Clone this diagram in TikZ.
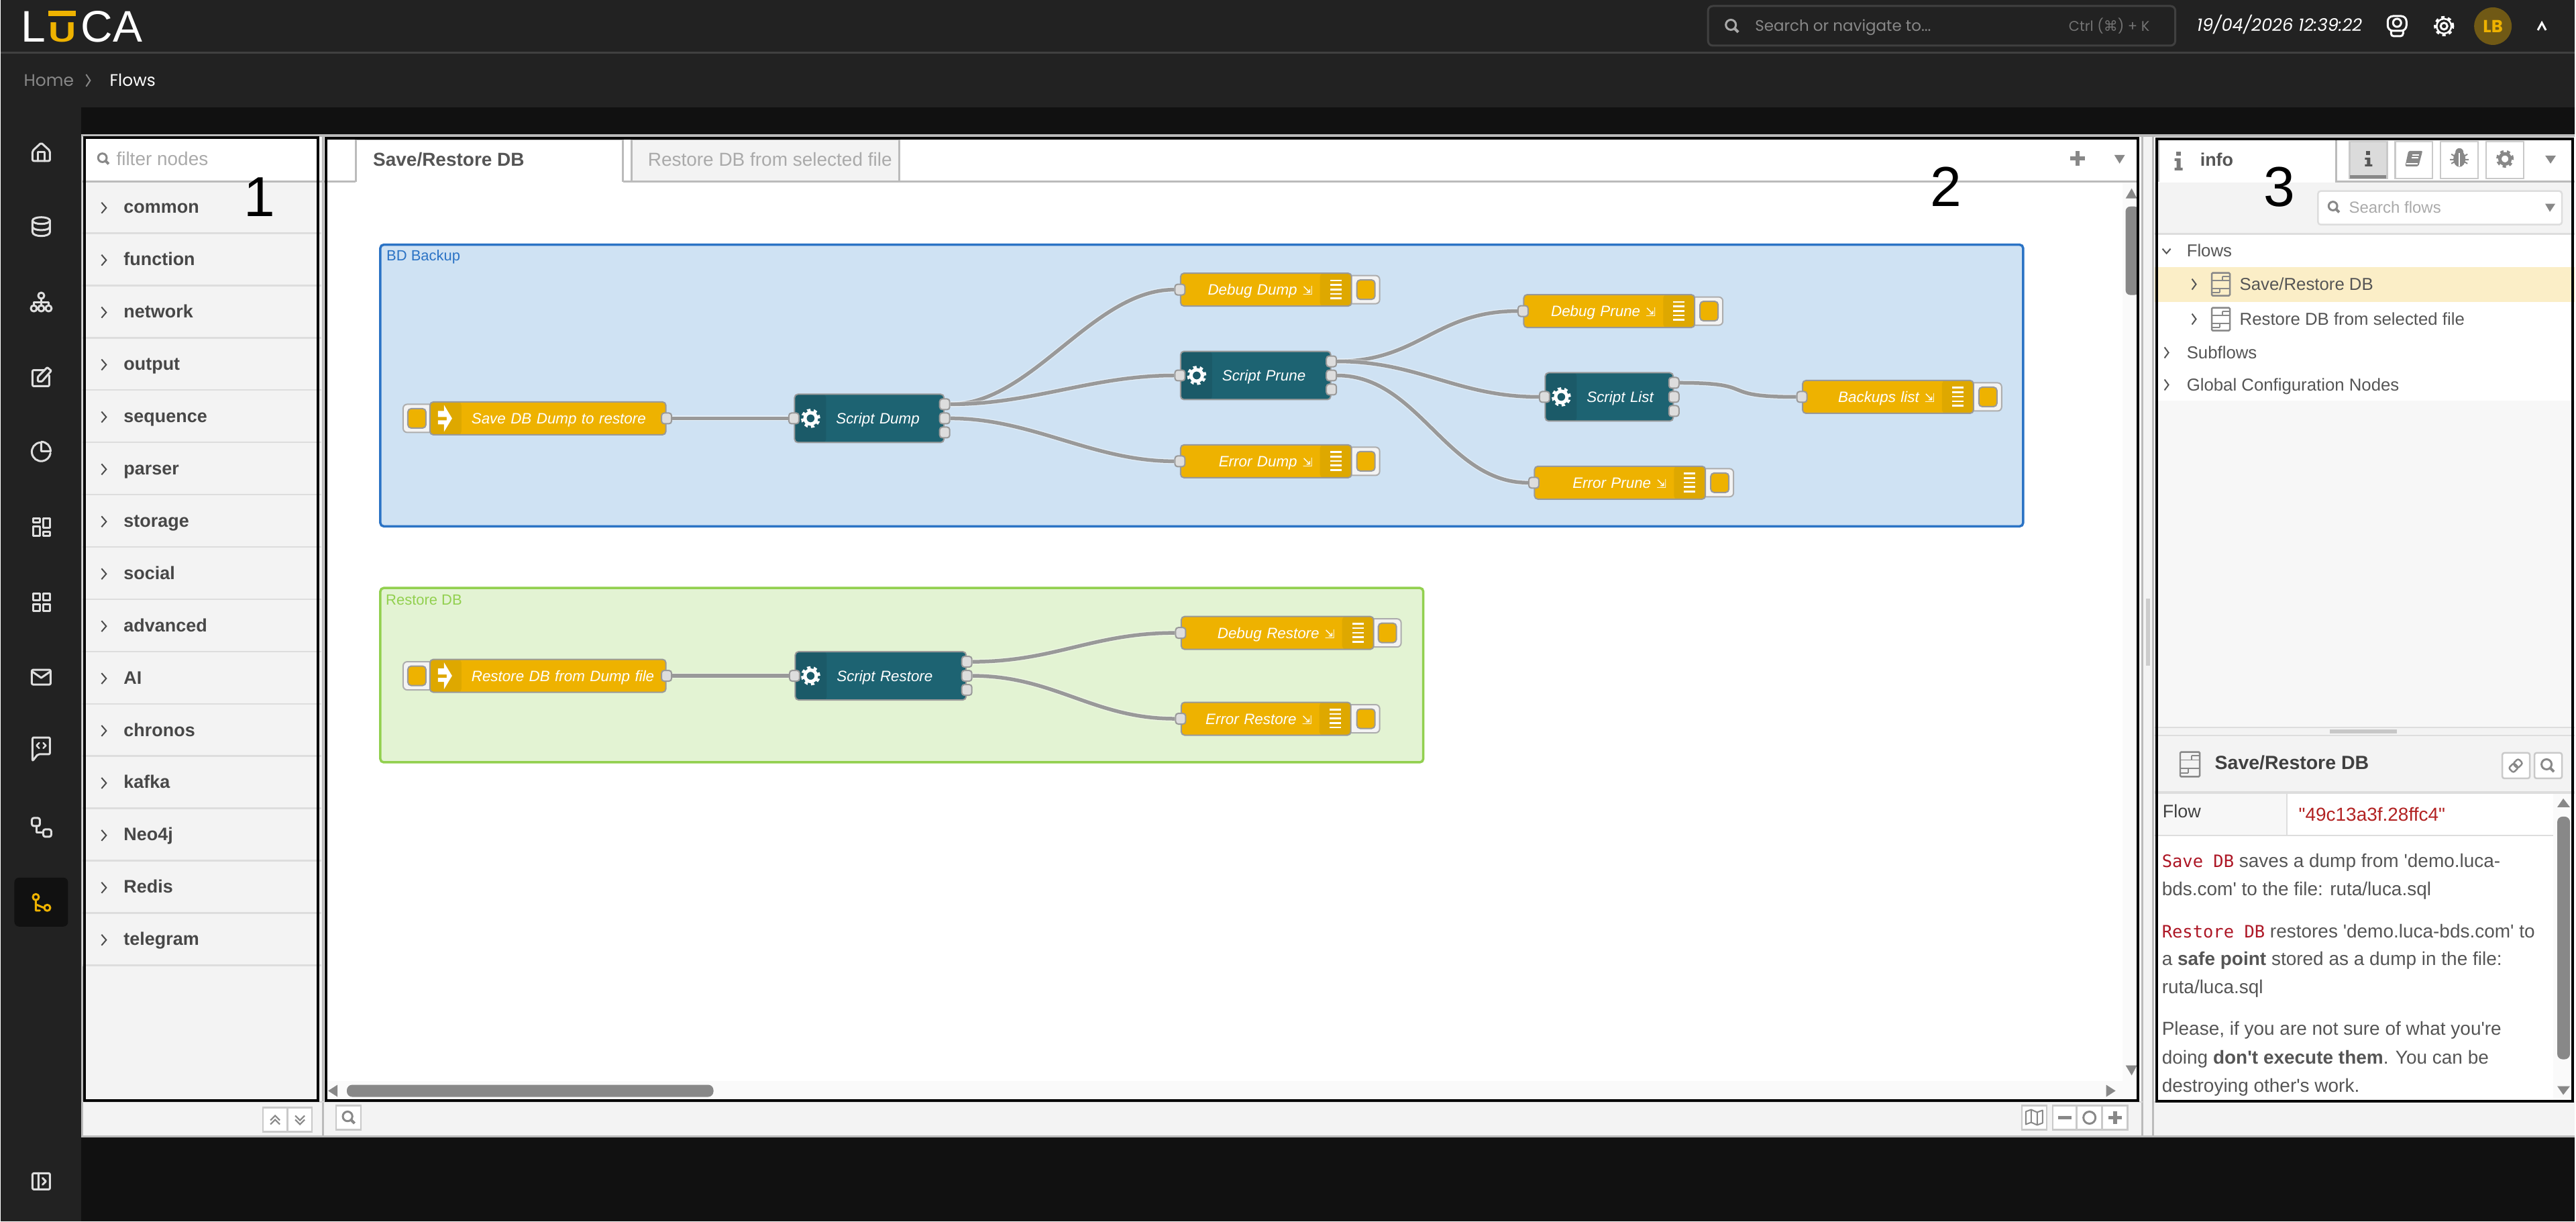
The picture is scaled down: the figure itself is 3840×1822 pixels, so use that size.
\documentclass[tikz,border=0pt]{standalone}
\usepackage{fontspec}
\setmainfont{Liberation Sans}
\setmonofont{DejaVu Sans Mono}
\newfontfamily\rawfont{Liberation Sans}
\newfontfamily\uifont{Poppins}
\newfontfamily\glyphfont{DejaVu Sans}
\newcommand{\fsz}[1]{\fontsize{#1}{#1}\selectfont}
\newcommand{\leftlabel}[1]{\rlap{#1}}
\newcommand{\outlabel}[1]{\hfill\llap{#1\hspace{8pt}{\glyphfont\fsz{18}⇲}}}
\definecolor{barcol}{HTML}{222222}
\definecolor{pagecol}{HTML}{111111}
\definecolor{panelcol}{HTML}{F3F3F3}
\definecolor{edgecol}{HTML}{BBBBBB}
\definecolor{rowcol}{HTML}{DDDDDD}
\definecolor{textcol}{HTML}{555555}
\definecolor{dimcol}{HTML}{AAAAAA}
\definecolor{iconcol}{HTML}{888888}
\definecolor{sidecol}{HTML}{DEDEDE}
\definecolor{wirecol}{HTML}{999999}
\definecolor{goldcol}{HTML}{EEB200}
\definecolor{goldband}{HTML}{DEA800}
\definecolor{tealcol}{HTML}{1D6372}
\definecolor{tealband}{HTML}{1B5A68}
\definecolor{bluecol}{HTML}{2B73C5}
\definecolor{bluefill}{HTML}{CFE2F3}
\definecolor{greencol}{HTML}{92D04F}
\definecolor{greenfill}{HTML}{E3F3D3}
\definecolor{redcol}{HTML}{AD1625}
\definecolor{valcol}{HTML}{B22222}
\begin{document}
\begin{tikzpicture}[
x=1pt,y=-1pt,
node distance=78pt,
plain/.style={inner sep=0pt,anchor=base west},
palrow/.style={rectangle,inner sep=0pt,minimum width=356pt,minimum height=78pt,fill=panelcol,
	text width=234pt,text height=22pt,text depth=6pt,text=black!72,font=\fsz{27}\bfseries,
	path picture={
		\draw[rowcol,line width=5pt] (path picture bounding box.south west) -- (path picture bounding box.south east);
		\draw[black!70,line width=2pt] ([xshift=28pt,yshift=8pt]path picture bounding box.west) -- ([xshift=35pt]path picture bounding box.west) -- ([xshift=28pt,yshift=-8pt]path picture bounding box.west);
	}},
flowbox/.style={rectangle,rounded corners=5pt,draw=wirecol,line width=2pt,inner sep=0pt,
	minimum height=49pt,text=white,font=\fsz{22.4}\itshape,text height=20pt,text depth=4pt},
injectbox/.style={flowbox,fill=goldcol,minimum width=#1pt,text width={#1pt-124pt},
	path picture={
		\fill[goldband] (path picture bounding box.north west) rectangle ([xshift=47pt]path picture bounding box.south west);
	}},
debugbox/.style={flowbox,fill=goldcol,minimum width=#1pt,text width={#1pt-116pt},
	path picture={
		\fill[goldband] ([xshift=-47pt]path picture bounding box.north east) rectangle (path picture bounding box.south east);
		\draw[white,line width=17pt,dash pattern=on 2.6pt off 4.1pt] ([xshift=-23.5pt,yshift=15pt]path picture bounding box.east) -- ([xshift=-23.5pt,yshift=-15pt]path picture bounding box.east);
	}},
scriptbox/.style={flowbox,fill=tealcol,minimum height=72pt,minimum width=#1pt,text width={#1pt-124pt},
	path picture={
		\fill[tealband] (path picture bounding box.north west) rectangle ([xshift=47pt]path picture bounding box.south west);
	}},
pushbtn/.style={rectangle,rounded corners=6pt,draw=wirecol!80,line width=2pt,fill=panelcol,minimum width=60pt,minimum height=42pt,inner sep=0pt},
btnleft/.style={pushbtn,path picture={\draw[fill=goldcol,draw=wirecol,line width=2pt,rounded corners=5pt] ([xshift=7pt,yshift=-14.5pt]path picture bounding box.west) rectangle ([xshift=34pt,yshift=14.5pt]path picture bounding box.west);}},
btnright/.style={pushbtn,path picture={\draw[fill=goldcol,draw=wirecol,line width=2pt,rounded corners=5pt] ([xshift=-7pt,yshift=-14.5pt]path picture bounding box.east) rectangle ([xshift=-34pt,yshift=14.5pt]path picture bounding box.east);}},
port/.style={rectangle,rounded corners=4pt,draw=wirecol,line width=2pt,fill=rowcol,minimum width=15pt,minimum height=16pt,inner sep=0pt},
wire/.style={draw=wirecol,line width=5.5pt,preaction={draw=white,draw opacity=.45,line width=8pt}},
groupbox/.style={rectangle,rounded corners=5pt,line width=3.5pt,inner sep=0pt},
toolbtn/.style={rectangle,draw=edgecol!80,line width=2.5pt,fill=white,minimum width=56pt,minimum height=55pt,inner sep=0pt},
smallbtn/.style={rectangle,draw=edgecol!80,line width=2.5pt,fill=white,inner sep=0pt},
treetext/.style={plain,text=textcol,font=\fsz{25.8}},
infotext/.style={plain,text=textcol,font=\fsz{28}\rawfont},
frame/.style={draw=black,line width=4pt},
side/.style={draw=sidecol,line width=3pt,line join=round,line cap=round},
gearpic/.pic={
	\path[pic actions,line width=5pt] (0,0) circle (8.5pt);
	\path[pic actions,line width=3.5pt,dash pattern=on 5pt off 5pt] (0,0) circle (12.7pt);
},
arrowpic/.pic={
	\fill[white] (13,-11) -- (22,-11) -- (22,-20) -- (34,0) -- (22,20) -- (22,9) -- (13,9) -- (13,3) -- (26,3) -- (26,-2) -- (13,-2) -- cycle;
},
magpic/.pic={
	\path[pic actions,line width=3pt] (-2,-2) circle (7.5pt);
	\path[pic actions,line width=4pt] (3.5,3.5) -- (9,9);
},
flowpic/.pic={
	\path[pic actions,line width=2.5pt,rounded corners=1.5pt] (-13.5,-17) rectangle (13.5,17);
	\path[pic actions,line width=2pt] (-13.5,-6) -- (13.5,-6) (-13.5,6) -- (13.5,6);
	\path[pic actions,line width=2pt] (2,-12) -- (13.5,-12) (-13.5,12) -- (-2,12) (2,-12) -- (2,-6) (-2,6) -- (-2,12);
}
]

% page and bars
\fill[pagecol] (0,0) rectangle (3840,1822);
\fill[barcol] (0,0) rectangle (3840,160);
\fill[barcol] (0,160) rectangle (120,1822);
\draw[black!75!white,line width=3pt] (0,79) -- (3840,79);

\node[plain,text=white,font=\fsz{66}] (logoa) at (30,63) {L};
\node[plain,text=goldcol,font=\fsz{42}\bfseries] (logob) at (71,63) {\scalebox{1.36}[1]{U}};
\fill[goldcol] (71,16) rectangle (112,24);
\node[plain,text=white,font=\fsz{66}] (logoc) at (119,63) {CA};
\node[plain,text=iconcol,font=\fsz{25}\uifont] (crumba) at (34,129) {Home};
\draw[iconcol,line width=2pt] (127,111) -- (133,120) -- (127,129);
\node[plain,text=white,font=\fsz{25}\uifont] (crumbb) at (162,129) {Flows};

\draw[black!75!white,line width=3pt,rounded corners=7pt,fill=barcol] (2547,9) rectangle (3244,68);
\pic[draw=dimcol] at (2583,39) {magpic};
\node[plain,text=iconcol,font=\fsz{23}\uifont] (searchtop) at (2617,47) {Search or navigate to...};
\node[plain,text=black!55!white,font=\fsz{21}\uifont] (searchkey) at (3085,47) {Ctrl ({\glyphfont ⌘}) + K};
\node[plain,text=white,font=\fsz{25.8}\uifont\itshape] (clock) at (3276,47) {19/04/2026 12:39:22};
\draw[white,line width=3pt,rounded corners=8pt] (3561,24) rectangle (3589,46);
\draw[white,line width=3pt,rounded corners=4pt] (3566,46) -- (3566,54) -- (3584,54) -- (3584,46);
\draw[white,line width=3pt] (3575,34) circle (6pt);
\pic[draw=white,scale=1.05] at (3645,39) {gearpic};
\fill[barcol] (3645,39) circle (10pt);
\draw[white,line width=3pt] (3645,39) circle (5pt);
\draw[white,line width=2.5pt] (3645,39) circle (11pt);
\node[circle,fill=goldcol!38!barcol,minimum size=56pt,inner sep=0pt,text=goldcol,font=\fsz{26}\uifont\bfseries] (avatar) at (3718,39) {LB};
\draw[white,line width=3pt] (3785,45) -- (3791,34) -- (3797,45);

% sidebar icons
\draw[side,rounded corners=2pt] (47,240) -- (47,225) -- (60,213) -- (73,225) -- (73,240) -- cycle;
\draw[side] (55,240) -- (55,227) -- (65,227) -- (65,240);
\draw[side] (60,329) ellipse (13pt and 5pt);
\draw[side] (47,329) -- (47,346) .. controls (47,354) and (73,354) .. (73,346) -- (73,329);
\draw[side] (47,338) .. controls (47,345) and (73,345) .. (73,338);
\draw[side] (60,441) circle (4.5pt);
\draw[side] (49,460) circle (4.5pt);
\draw[side] (60,460) circle (4.5pt);
\draw[side] (71,460) circle (4.5pt);
\draw[side] (60,446) -- (60,455) (49,455) -- (49,451) -- (71,451) -- (71,455);
\draw[side,rounded corners=2pt] (64,552) -- (47,552) -- (47,576) -- (72,576) -- (72,560);
\draw[side,rounded corners=1pt] (55,569) -- (55,562) -- (69,548) -- (75,553) -- (61,569) -- cycle;
\draw[side] (58,660) arc[start angle=98,end angle=352,radius=14pt];
\draw[side] (60,659) -- (60,673) -- (74,673) .. controls (74,665) and (68,659) .. (60,659);
\draw[side] (48,773) rectangle (58,779);
\draw[side] (48,785) rectangle (58,799);
\draw[side] (63,773) rectangle (73,787);
\draw[side] (63,793) rectangle (73,799);
\draw[side] (48,885) rectangle (58,895);
\draw[side] (63,885) rectangle (73,895);
\draw[side] (48,901) rectangle (58,911);
\draw[side] (63,901) rectangle (73,911);
\draw[side,rounded corners=2pt] (46,999) rectangle (74,1021);
\draw[side] (47,1002) -- (60,1011) -- (73,1002);
\draw[side,rounded corners=2pt] (47,1135) -- (47,1100) -- (73,1100) -- (73,1125) -- (55,1125) -- cycle;
\draw[side,line width=2.5pt] (57,1108) -- (53,1112) -- (57,1116) (63,1108) -- (67,1112) -- (63,1116);
\draw[side,rounded corners=3pt] (46,1220) rectangle (58,1232);
\draw[side,rounded corners=3pt] (63,1237) rectangle (75,1248);
\draw[side] (53,1232) -- (53,1242) -- (63,1242);
\fill[pagecol,rounded corners=7pt] (20,1309) rectangle (100,1382);
\draw[side,draw=goldcol] (52,1338) circle (4.5pt);
\draw[side,draw=goldcol] (69,1354) circle (4.5pt);
\draw[side,draw=goldcol] (52,1343) -- (52,1358) -- (58,1358) (52,1349) -- (64,1354);
\draw[side,rounded corners=2pt] (47,1750) rectangle (73,1774);
\draw[side] (56,1750) -- (56,1774) (62,1757) -- (67,1762) -- (62,1767);

% panels
\fill[panelcol] (120,200) rectangle (3840,1695);
\draw[edgecol,line width=4pt] (120,202) -- (3840,202);
\draw[edgecol,line width=3pt] (121,202) -- (121,1695) -- (3840,1695);
\fill[white] (482,204) rectangle (3195,1644);
\fill[white!98!black] (3165,272) rectangle (3195,1644);
\fill[white!98!black] (482,1612) rectangle (3195,1644);
\draw[edgecol,line width=3pt] (480,204) -- (480,1695);
\draw[edgecol,line width=3pt] (3195,204) -- (3195,1695);
\draw[edgecol,line width=3pt] (3211,204) -- (3211,1695);
\draw[edgecol!60,line width=2pt] (122,1643) -- (3195,1643);
\draw[edgecol!60,line width=2pt] (3212,1643) -- (3840,1643);

% palette
\fill[white] (122,204) rectangle (478,270);
\pic[draw=iconcol,scale=.85] at (153,237) {magpic};
\node[plain,text=dimcol,font=\fsz{28}] (filter) at (172,247) {filter nodes};
\node[palrow] (common) at (300,310) {common};
\node[palrow] (function) [below of = common] {function};
\node[palrow] (network) [below of = function] {network};
\node[palrow] (output) [below of = network] {output};
\node[palrow] (sequence) [below of = output] {sequence};
\node[palrow] (parser) [below of = sequence] {parser};
\node[palrow] (storage) [below of = parser] {storage};
\node[palrow] (social) [below of = storage] {social};
\node[palrow] (advanced) [below of = social] {advanced};
\node[palrow] (ai) [below of = advanced] {AI};
\node[palrow] (chronos) [below of = ai] {chronos};
\node[palrow] (kafka) [below of = chronos] {kafka};
\node[palrow] (neo) [below of = kafka] {Neo4j};
\node[palrow] (redis) [below of = neo] {Redis};
\node[palrow] (telegram) [below of = redis] {telegram};
\draw[edgecol,line width=3pt] (122,271) -- (529,271);
\node[smallbtn,minimum width=36pt,minimum height=36pt] (palup) at (409,1670) {};
\node[smallbtn,minimum width=36pt,minimum height=36pt] (paldown) at (446,1670) {};
\draw[iconcol,line width=2pt] (402,1671) -- (409,1664) -- (416,1671) (402,1677) -- (409,1670) -- (416,1677);
\draw[iconcol,line width=2pt] (439,1664) -- (446,1671) -- (453,1664) (439,1670) -- (446,1677) -- (453,1670);

% tabs
\draw[edgecol,line width=3pt,fill=white] (529,271) -- (529,208) -- (928,208) -- (928,271);
\draw[edgecol,line width=3pt,fill=panelcol] (941,271) -- (941,208) -- (1340,208) -- (1340,271);
\draw[edgecol,line width=3pt] (928,271) -- (3187,271);
\node[plain,text=textcol,font=\fsz{28}\bfseries] (tabsave) at (555,248) {Save/Restore DB};
\begin{scope}
\clip (941,208) rectangle (1331,271);
\node[plain,text=dimcol,font=\fsz{28}] (tabrestore) at (965,248) {Restore DB from selected file};
\end{scope}
\fill[iconcol] (3095,225) rectangle (3101,247);
\fill[iconcol] (3087,233) rectangle (3109,239);
\fill[iconcol] (3153,231) -- (3169,231) -- (3161,244) -- cycle;

% scrollbars
\fill[iconcol] (3170,296) -- (3187,296) -- (3179,281) -- cycle;
\fill[iconcol,rounded corners=7pt] (3170,308) rectangle (3190,440);
\fill[iconcol] (3170,1589) -- (3187,1589) -- (3179,1604) -- cycle;
\fill[iconcol] (502,1618) -- (502,1636) -- (488,1627) -- cycle;
\fill[iconcol,rounded corners=8pt] (516,1618) rectangle (1063,1636);
\fill[iconcol] (3141,1618) -- (3141,1636) -- (3155,1627) -- cycle;
\fill[edgecol!75] (3200,893) rectangle (3206,993);

% flows
\node[groupbox,draw=bluecol,fill=bluefill,minimum width=2451pt,minimum height=420pt] (bdgroup) at (1791.5,575) {};
\node[plain,text=bluecol,font=\fsz{22}] (bdlabel) at (575,389) {BD Backup};
\node[groupbox,draw=greencol,fill=greenfill,minimum width=1556pt,minimum height=260pt] (regroup) at (1344,1007) {};
\node[plain,text=greencol,font=\fsz{22}] (relabel) at (574,902) {Restore DB};

\node[btnleft] (saveb) at (630,624) {};
\node[injectbox=352] (save) at (816,624) {\leftlabel{Save DB Dump to restore}};
\node[scriptbox=223] (sdump) at (1295.5,624) {\leftlabel{Script Dump}};
\node[btnright] (ddumpb) at (2027,432) {};
\node[debugbox=255] (ddump) at (1887.5,432) {\outlabel{Debug Dump}};
\node[scriptbox=224] (sprune) at (1872,560) {\leftlabel{Script Prune}};
\node[btnright] (edumpb) at (2027,688) {};
\node[debugbox=255] (edump) at (1887.5,688) {\outlabel{Error Dump}};
\node[btnright] (dpruneb) at (2539,464) {};
\node[debugbox=255] (dprune) at (2399.5,464) {\outlabel{Debug Prune}};
\node[scriptbox=191] (slist) at (2399.5,592) {\leftlabel{Script List}};
\node[btnright] (backupsb) at (2955,592) {};
\node[debugbox=255] (backups) at (2815.5,592) {\outlabel{Backups list}};
\node[btnright] (epruneb) at (2555,720) {};
\node[debugbox=255] (eprune) at (2415.5,720) {\outlabel{Error Prune}};

\node[btnleft] (restoreb) at (630,1008) {};
\node[injectbox=352] (restore) at (816,1008) {\leftlabel{Restore DB from Dump file}};
\node[scriptbox=255] (srestore) at (1312.5,1008) {\leftlabel{Script Restore}};
\node[btnright] (drestoreb) at (2059,944) {};
\node[debugbox=287] (drestore) at (1904.5,944) {\outlabel{Debug Restore}};
\node[btnright] (erestoreb) at (2027,1072) {};
\node[debugbox=253] (erestore) at (1887.5,1072) {\outlabel{Error Restore}};

\pic at (save.west) {arrowpic};
\pic at (restore.west) {arrowpic};
\pic[draw=white] at (1208,624) {gearpic};
\pic[draw=white] at (1784,560) {gearpic};
\pic[draw=white] at (2328,592) {gearpic};
\pic[draw=white] at (1208,1008) {gearpic};

\node[port] (saveo) at (save.east) {};
\node[port] (sdumpi) at (sdump.west) {};
\node[port] (sdumpa) at ([yshift=21pt]sdump.east) {};
\node[port] (sdumpb) at (sdump.east) {};
\node[port] (sdumpc) at ([yshift=-21pt]sdump.east) {};
\node[port] (ddumpi) at (ddump.west) {};
\node[port] (sprunei) at (sprune.west) {};
\node[port] (sprunea) at ([yshift=21pt]sprune.east) {};
\node[port] (spruneb) at (sprune.east) {};
\node[port] (sprunec) at ([yshift=-21pt]sprune.east) {};
\node[port] (edumpi) at (edump.west) {};
\node[port] (dprunei) at (dprune.west) {};
\node[port] (slisti) at (slist.west) {};
\node[port] (slista) at ([yshift=21pt]slist.east) {};
\node[port] (slistb) at (slist.east) {};
\node[port] (slistc) at ([yshift=-21pt]slist.east) {};
\node[port] (backupsi) at (backups.west) {};
\node[port] (eprunei) at (eprune.west) {};
\node[port] (restoreo) at (restore.east) {};
\node[port] (srestorei) at (srestore.west) {};
\node[port] (srestorea) at ([yshift=21pt]srestore.east) {};
\node[port] (srestoreb) at (srestore.east) {};
\node[port] (srestorec) at ([yshift=-21pt]srestore.east) {};
\node[port] (drestorei) at (drestore.west) {};
\node[port] (erestorei) at (erestore.west) {};

\path[wire] (saveo.east) -- (sdumpi.west);
\path[wire] (sdumpa.east) .. controls +(122,0) and +(-122,0) .. (ddumpi.west);
\path[wire] (sdumpa.east) .. controls +(122,0) and +(-122,0) .. (sprunei.west);
\path[wire] (sdumpb.east) .. controls +(122,0) and +(-122,0) .. (edumpi.west);
\path[wire] (sprunea.east) .. controls +(122,0) and +(-122,0) .. (dprunei.west);
\path[wire] (sprunea.east) .. controls +(122,0) and +(-122,0) .. (slisti.west);
\path[wire] (spruneb.east) .. controls +(122,0) and +(-122,0) .. (eprunei.west);
\path[wire] (slista.east) .. controls +(122,0) and +(-122,0) .. (backupsi.west);
\path[wire] (restoreo.east) -- (srestorei.west);
\path[wire] (srestorea.east) .. controls +(122,0) and +(-122,0) .. (drestorei.west);
\path[wire] (srestoreb.east) .. controls +(122,0) and +(-122,0) .. (erestorei.west);

% canvas footer
\node[smallbtn,minimum width=37pt,minimum height=36pt] (zoomfind) at (518.5,1667) {};
\pic[draw=iconcol,scale=.95] at (519,1667) {magpic};
\node[smallbtn,minimum width=37pt,minimum height=36pt] (mapbtn) at (3033.5,1667) {};
\draw[iconcol,line width=2pt,line join=round] (3021,1658) -- (3029,1655) -- (3038,1659) -- (3046,1656) -- (3046,1675) -- (3038,1678) -- (3029,1674) -- (3021,1677) -- cycle (3029,1655) -- (3029,1674) (3038,1659) -- (3038,1678);
\node[smallbtn,minimum width=36pt,minimum height=36pt] (zoomout) at (3079,1667) {};
\node[smallbtn,minimum width=38pt,minimum height=36pt] (zoomreset) at (3116,1667) {};
\node[smallbtn,minimum width=38pt,minimum height=36pt] (zoomin) at (3154,1667) {};
\fill[iconcol] (3069,1664) rectangle (3089,1670);
\draw[iconcol,line width=3pt] (3116,1667) circle (9pt);
\fill[iconcol] (3144,1664) rectangle (3164,1670);
\fill[iconcol] (3151,1657) rectangle (3157,1677);

% sidebar panel
\fill[white] (3213,204) rectangle (3840,272);
\draw[edgecol,line width=3pt,fill=white] (3219,271) -- (3219,208) -- (3484,208) -- (3484,271) -- (3840,271);
\fill[panelcol] (3213,272) rectangle (3840,348);
\draw[rowcol,line width=3pt] (3213,349) -- (3840,349);
\fill[iconcol!90!black] (3245,226) rectangle (3252,232);
\fill[iconcol!90!black] (3243,236) -- (3252,236) -- (3252,250) -- (3255,250) -- (3255,254) -- (3243,254) -- (3243,250) -- (3246,250) -- (3246,240) -- (3243,240) -- cycle;
\node[plain,text=textcol,font=\fsz{27}\bfseries] (infotab) at (3281,248) {info};
\node[toolbtn,fill=panelcol!90!black] (toolinfo) at (3532,238.5) {};
\fill[iconcol] (3505,261) rectangle (3559,266);
\fill[textcol] (3529,225) rectangle (3535,231);
\fill[textcol] (3527,235) -- (3535,235) -- (3535,245) -- (3538,245) -- (3538,248) -- (3527,248) -- (3527,245) -- (3530,245) -- (3530,238) -- (3527,238) -- cycle;
\node[toolbtn] (toolbook) at (3600,238.5) {};
\fill[iconcol,rounded corners=2pt] (3592,225) -- (3613,225) -- (3607,248) -- (3587,248) -- cycle;
\draw[white,line width=1.5pt] (3598,231) -- (3608,231) (3597,235) -- (3607,235) (3589,244) -- (3606,244);
\node[toolbtn] (toolbug) at (3668,238.5) {};
\fill[iconcol] (3668,237) ellipse (9pt and 12pt);
\fill[iconcol] (3668,227) circle (6pt);
\draw[iconcol,line width=2pt] (3656,230) -- (3680,244) (3680,230) -- (3656,244) (3654,238) -- (3682,238);
\draw[white,line width=1.5pt] (3668,228) -- (3668,248);
\node[toolbtn] (toolgear) at (3736,238.5) {};
\pic[draw=iconcol,scale=.9] at (3736,237) {gearpic};
\fill[iconcol] (3796,232) -- (3812,232) -- (3804,244) -- cycle;
\node[rectangle,draw=rowcol,line width=2.5pt,fill=white,rounded corners=4pt,minimum width=364pt,minimum height=50pt,inner sep=0pt] (searchbox) at (3639,310) {};
\pic[draw=iconcol,scale=.85] at (3481,309) {magpic};
\node[plain,text=dimcol,font=\fsz{24}] (searchflows) at (3503,318) {Search flows};
\fill[iconcol] (3796,304) -- (3811,304) -- (3803,316) -- cycle;

\fill[white] (3213,350) rectangle (3840,598);
\fill[white!97!black] (3213,598) rectangle (3840,1085);
\fill[goldcol!22!white] (3213,398) rectangle (3840,450);
\draw[textcol,line width=2pt] (3225,371) -- (3231,378) -- (3237,371);
\node[treetext] (treeflows) at (3261,383) {Flows};
\draw[textcol,line width=2pt] (3269,416) -- (3275,424) -- (3269,432);
\pic[draw=iconcol] at (3312,424) {flowpic};
\node[treetext] (treesave) at (3340,433) {Save/Restore DB};
\draw[textcol,line width=2pt] (3269,468) -- (3275,476) -- (3269,484);
\pic[draw=iconcol] at (3312,476) {flowpic};
\begin{scope}
\clip (3330,450) rectangle (3674,500);
\node[treetext] (treerestore) at (3340,485) {Restore DB from selected file};
\end{scope}
\draw[textcol,line width=2pt] (3228,518) -- (3234,526) -- (3228,534);
\node[treetext] (treesub) at (3261,535) {Subflows};
\draw[textcol,line width=2pt] (3228,566) -- (3234,574) -- (3228,582);
\node[treetext] (treeglobal) at (3261,583) {Global Configuration Nodes};

\draw[rowcol,line width=2.5pt] (3213,1085) -- (3840,1085);
\draw[rowcol,line width=2.5pt] (3213,1097) -- (3840,1097);
\fill[rowcol!90!black] (3475,1088) rectangle (3575,1094);
\fill[panelcol] (3213,1098) rectangle (3840,1181);
\draw[rowcol,line width=4pt] (3213,1182) -- (3840,1182);
\pic[draw=iconcol,scale=1.08] at (3266,1140) {flowpic};
\node[plain,text=black!75,font=\fsz{28.5}\bfseries] (infotitle) at (3303,1148) {Save/Restore DB};
\node[smallbtn,rounded corners=3pt,minimum width=41pt,minimum height=38pt] (linkbtn) at (3752.5,1142) {};
\draw[iconcol,line width=2.5pt,rotate around={45:(3752,1142)},rounded corners=3pt] (3742,1137) rectangle (3753,1147) (3751,1137) rectangle (3762,1147);
\node[smallbtn,rounded corners=3pt,minimum width=41pt,minimum height=38pt] (findbtn) at (3800.5,1142) {};
\pic[draw=iconcol] at (3800,1142) {magpic};

\fill[white] (3213,1184) rectangle (3840,1642);
\fill[white!97!black] (3213,1184) rectangle (3411,1246);
\fill[white!98!black] (3808,1184) rectangle (3840,1642);
\draw[rowcol,line width=2pt] (3411,1184) -- (3411,1246);
\draw[rowcol,line width=2pt] (3213,1246) -- (3808,1246);
\node[plain,text=black!75,font=\fsz{27}] (flowkey) at (3225,1220) {Flow};
\node[plain,text=valcol,font=\fsz{28}\rawfont] (flowval) at (3428,1225) {"49c13a3f.28ffc4"};
\node[infotext] (linea) at (3224,1294) {{\ttfamily\fsz{25.5}\textcolor{redcol}{Save DB}} saves a dump from 'demo.luca-};
\node[infotext] (lineb) at (3224,1336) {bds.com' to the file: ruta/luca.sql};
\node[infotext] (linec) at (3224,1399) {{\ttfamily\fsz{25.5}\textcolor{redcol}{Restore DB}} restores 'demo.luca-bds.com' to};
\node[infotext] (lined) at (3224,1440) {a \textbf{safe point} stored as a dump in the file:};
\node[infotext] (linee) at (3224,1482) {ruta/luca.sql};
\node[infotext] (linef) at (3224,1544) {Please, if you are not sure of what you're};
\node[infotext] (lineg) at (3224,1587) {doing \textbf{don't execute them}. You can be};
\node[infotext] (lineh) at (3224,1629) {destroying other's work.};
\fill[iconcol] (3814,1204) -- (3833,1204) -- (3823,1191) -- cycle;
\fill[iconcol,rounded corners=8pt] (3814,1218) rectangle (3833,1580);
\fill[iconcol] (3814,1620) -- (3833,1620) -- (3823,1633) -- cycle;

% numbered frames
\draw[frame] (125,205) rectangle (473,1641);
\draw[frame] (485,206) rectangle (3188,1641);
\draw[frame] (3216,207) rectangle (3837,1642);
\node[plain,anchor=base,font=\fsz{84}] (numa) at (386,323) {1};
\node[plain,anchor=base,font=\fsz{84}] (numb) at (2902,308) {2};
\node[plain,anchor=base,font=\fsz{84}] (numc) at (3399,308) {3};

\useasboundingbox (0,0) rectangle (3840,1822);
\end{tikzpicture}
\end{document}
